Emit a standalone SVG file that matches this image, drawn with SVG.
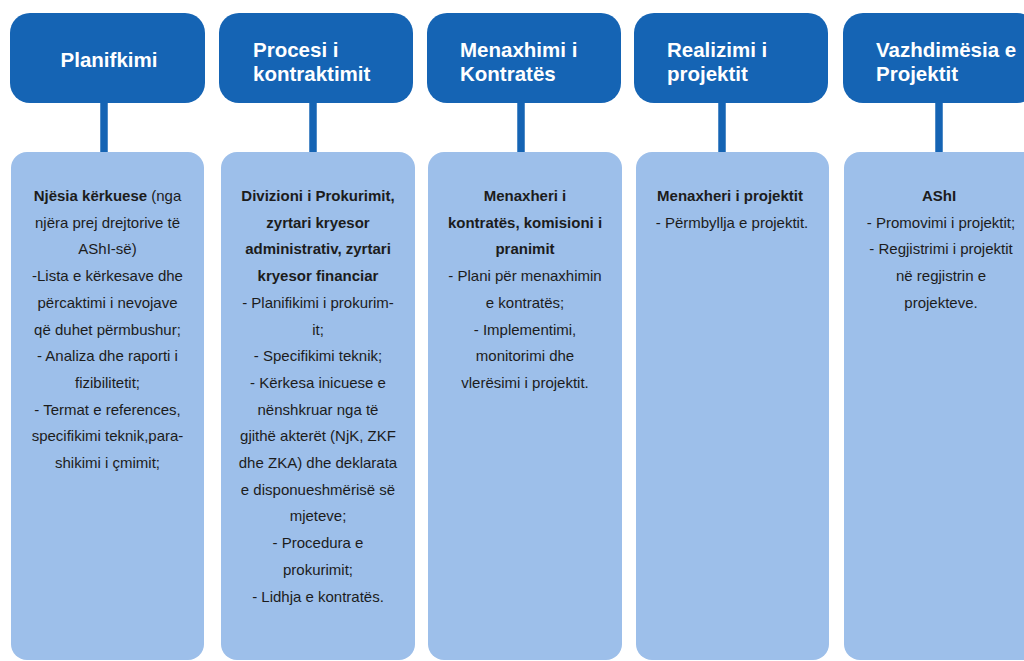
<svg xmlns="http://www.w3.org/2000/svg" width="1024" height="661" viewBox="0 0 1024 661">
<style>
.hd{fill:#1564b4}
.bd{fill:#9dbfea}
.ht{font-family:"Liberation Sans",Arial,sans-serif;font-weight:bold;font-size:20.5px;fill:#ffffff}
.bt{font-family:"Liberation Sans",Arial,sans-serif;font-size:15px;fill:#1c1c1c;text-anchor:middle}
.b{font-weight:bold}
.cn{stroke:#1564b4;stroke-width:7.5;fill:none}
</style>
<rect width="1024" height="661" fill="#ffffff"/>
<g id="connectors">
<line class="cn" x1="104" y1="100" x2="104" y2="155"/>
<line class="cn" x1="313" y1="100" x2="313" y2="155"/>
<line class="cn" x1="521" y1="100" x2="521" y2="155"/>
<line class="cn" x1="722" y1="100" x2="722" y2="155"/>
<line class="cn" x1="939" y1="100" x2="939" y2="155"/>
</g>
<g id="h1"><rect class="hd" x="10" y="13" width="195" height="90" rx="20"/><text class="ht" x="109" y="67" text-anchor="middle">Planifkimi</text></g>
<g id="h2"><rect class="hd" x="219" y="13" width="194" height="90" rx="20"/><text class="ht" x="253" y="57">Procesi i</text><text class="ht" x="253" y="81">kontraktimit</text></g>
<g id="h3"><rect class="hd" x="427" y="13" width="194" height="90" rx="20"/><text class="ht" x="460" y="57">Menaxhimi i</text><text class="ht" x="460" y="81">Kontratës</text></g>
<g id="h4"><rect class="hd" x="634" y="13" width="194" height="90" rx="20"/><text class="ht" x="667" y="57">Realizimi i</text><text class="ht" x="667" y="81">projektit</text></g>
<g id="h5"><rect class="hd" x="843" y="13" width="194" height="90" rx="20"/><text class="ht" x="876" y="57">Vazhdimësia e</text><text class="ht" x="876" y="81">Projektit</text></g>

<g id="b1"><rect class="bd" x="11" y="152" width="193" height="508" rx="16"/>
<text class="bt" x="107.5" y="201"><tspan class="b">Njësia kërkuese</tspan> (nga</text>
<text class="bt" x="107.5" y="227.7">njëra prej drejtorive të</text>
<text class="bt" x="107.5" y="254.4">AShI-së)</text>
<text class="bt" x="107.5" y="281.1">-Lista e kërkesave dhe</text>
<text class="bt" x="107.5" y="307.8">përcaktimi i nevojave</text>
<text class="bt" x="107.5" y="334.5">që duhet përmbushur;</text>
<text class="bt" x="107.5" y="361.2">- Analiza dhe raporti i</text>
<text class="bt" x="107.5" y="387.9">fizibilitetit;</text>
<text class="bt" x="107.5" y="414.6">- Termat e references,</text>
<text class="bt" x="107.5" y="441.3">specifikimi teknik,para-</text>
<text class="bt" x="107.5" y="468">shikimi i çmimit;</text>
</g>
<g id="b2"><rect class="bd" x="221" y="152" width="194" height="508" rx="16"/>
<text class="bt b" x="318" y="201">Divizioni i Prokurimit,</text>
<text class="bt b" x="318" y="227.7">zyrtari kryesor</text>
<text class="bt b" x="318" y="254.4">administrativ, zyrtari</text>
<text class="bt b" x="318" y="281.1">kryesor financiar</text>
<text class="bt" x="318" y="307.8">- Planifikimi i prokurim-</text>
<text class="bt" x="318" y="334.5">it;</text>
<text class="bt" x="318" y="361.2">- Specifikimi teknik;</text>
<text class="bt" x="318" y="387.9">- Kërkesa inicuese e</text>
<text class="bt" x="318" y="414.6">nënshkruar nga të</text>
<text class="bt" x="318" y="441.3">gjithë akterët (NjK, ZKF</text>
<text class="bt" x="318" y="468">dhe ZKA) dhe deklarata</text>
<text class="bt" x="318" y="494.7">e disponueshmërisë së</text>
<text class="bt" x="318" y="521.4">mjeteve;</text>
<text class="bt" x="318" y="548.1">- Procedura e</text>
<text class="bt" x="318" y="574.8">prokurimit;</text>
<text class="bt" x="318" y="601.5">- Lidhja e kontratës.</text>
</g>
<g id="b3"><rect class="bd" x="428" y="152" width="194" height="508" rx="16"/>
<text class="bt b" x="525" y="201">Menaxheri i</text>
<text class="bt b" x="525" y="227.7">kontratës, komisioni i</text>
<text class="bt b" x="525" y="254.4">pranimit</text>
<text class="bt" x="525" y="281.1">- Plani për menaxhimin</text>
<text class="bt" x="525" y="307.8">e kontratës;</text>
<text class="bt" x="525" y="334.5">- Implementimi,</text>
<text class="bt" x="525" y="361.2">monitorimi dhe</text>
<text class="bt" x="525" y="387.9">vlerësimi i projektit.</text>
</g>
<g id="b4"><rect class="bd" x="636" y="152" width="193" height="508" rx="16"/>
<text class="bt b" x="730" y="201">Menaxheri i projektit</text>
<text class="bt" x="732" y="227.7">- Përmbyllja e projektit.</text>
</g>
<g id="b5"><rect class="bd" x="844" y="152" width="194" height="508" rx="16"/>
<text class="bt b" x="939" y="201">AShI</text>
<text class="bt" x="941" y="227.7">- Promovimi i projektit;</text>
<text class="bt" x="941" y="254.4">- Regjistrimi i projektit</text>
<text class="bt" x="941" y="281.1">në regjistrin e</text>
<text class="bt" x="941" y="307.8">projekteve.</text>
</g>
</svg>
